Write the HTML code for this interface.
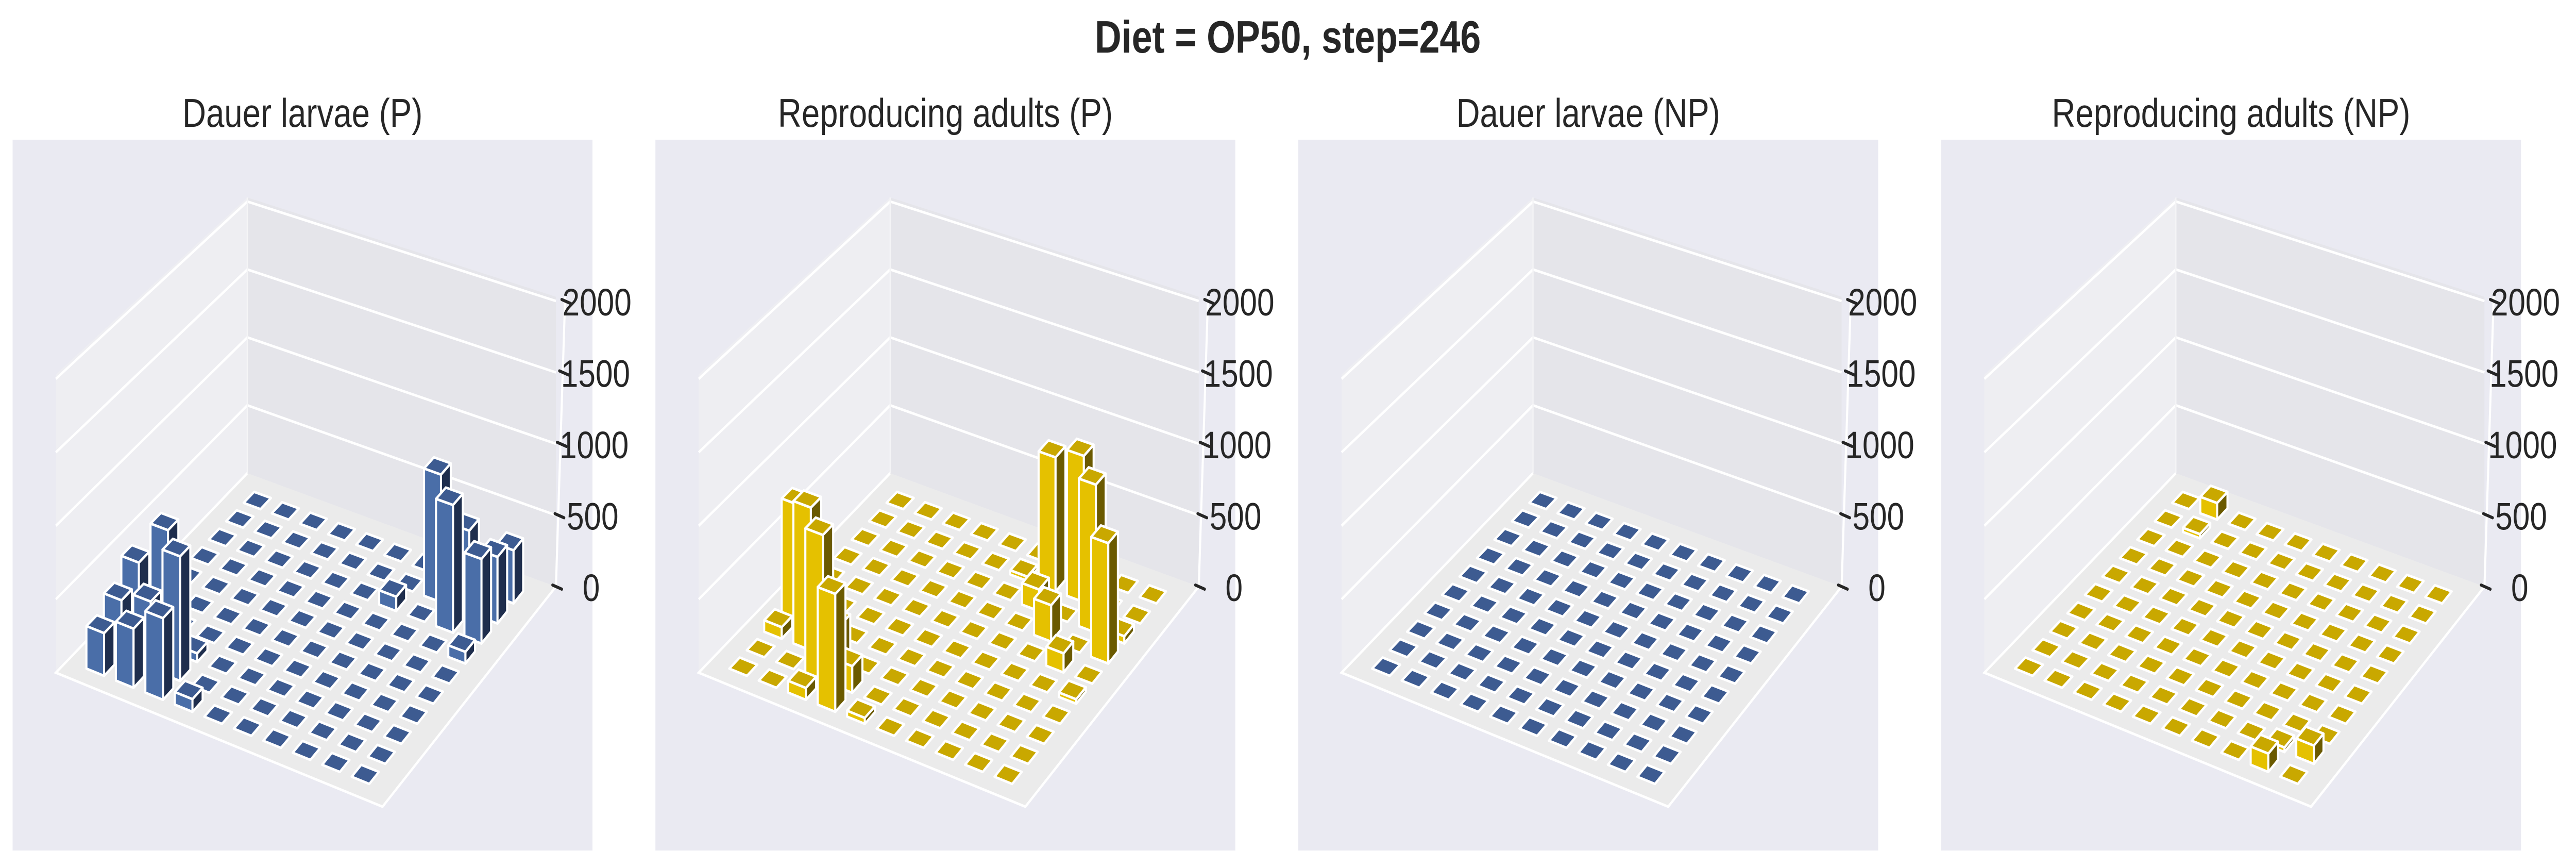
<!DOCTYPE html>
<html><head><meta charset="utf-8"><style>
html,body{margin:0;padding:0;background:#fff;overflow:hidden;width:100%;height:100%;}
svg{display:block;width:100vw;height:100vh;font-family:"Liberation Sans",Arial,sans-serif;}
</style></head><body>
<svg id="fig" viewBox="0 0 6135 1682" preserveAspectRatio="none" xmlns="http://www.w3.org/2000/svg">
<rect width="6135" height="1682" fill="#ffffff"/>
<text x="3067" y="102" text-anchor="middle" font-size="88" font-weight="bold" fill="#262626">Diet = OP50, step=246</text>
</svg>
<script>
// ---- data (rows = depth index j, columns = index i) ----
const panelTitles = ["Dauer larvae (P)", "Reproducing adults (P)", "Dauer larvae (NP)", "Reproducing adults (NP)"];
const zTicks = [0, 500, 1000, 1500, 2000];
const zTickLabels = ["0", "500", "1000", "1500", "2000"];
const dauerP = [
 [290,400,550,85,0,0,0,0,0,0],
 [390,460,845,0,0,0,0,0,0,0],
 [525,825,60,0,0,0,0,0,0,0],
 [0,0,0,0,0,0,0,0,0,0],
 [0,0,0,0,0,0,0,0,0,0],
 [0,0,0,0,0,0,0,0,0,0],
 [0,0,0,0,0,0,0,0,0,80],
 [0,0,0,0,0,0,100,0,880,580],
 [0,0,0,0,0,0,0,890,570,460],
 [0,0,0,0,0,0,0,295,0,370]
];
const adultP = [
 [0,0,80,790,40,0,0,0,0,0],
 [0,0,990,180,0,0,0,0,0,0],
 [80,980,250,0,0,0,0,0,0,0],
 [800,0,0,0,0,0,0,0,0,0],
 [0,0,0,0,0,0,0,0,0,30],
 [0,0,0,0,0,0,0,0,130,0],
 [0,0,0,0,0,0,0,250,0,820],
 [0,0,0,0,0,0,150,0,1020,50],
 [0,0,0,0,0,30,940,1020,0,0],
 [0,0,0,0,0,0,0,0,0,0]
];
const dauerNP = [
 [0,0,0,0,0,0,0,0,0,0],[0,0,0,0,0,0,0,0,0,0],[0,0,0,0,0,0,0,0,0,0],
 [0,0,0,0,0,0,0,0,0,0],[0,0,0,0,0,0,0,0,0,0],[0,0,0,0,0,0,0,0,0,0],
 [0,0,0,0,0,0,0,0,0,0],[0,0,0,0,0,0,0,0,0,0],[0,0,0,0,0,0,0,0,0,0],
 [0,0,0,0,0,0,0,0,0,0]
];
const adultNP = [
 [0,0,0,0,0,0,0,0,120,0],
 [0,0,0,0,0,0,0,0,30,120],
 [0,0,0,0,0,0,0,0,0,0],[0,0,0,0,0,0,0,0,0,0],[0,0,0,0,0,0,0,0,0,0],
 [0,0,0,0,0,0,0,0,0,0],[0,0,0,0,0,0,0,0,0,0],[0,0,0,0,0,0,0,0,0,0],
 [0,30,0,0,0,0,0,0,0,0],
 [0,120,0,0,0,0,0,0,0,0]
];
const panelData = [dauerP, adultP, dauerNP, adultNP];

const NS = "http://www.w3.org/2000/svg";
const svg = document.getElementById("fig");
const panelX = [30, 1561, 3092, 4623];
const PW = 1381, PH = 1379, PY = 271;
const palettes = [
 {front:"#4a6ea8", side:"#1f2e4d", top:"#3d5b91"},
 {front:"#e5c100", side:"#6b5a00", top:"#c9a800"}
];
const L=[103,1034], B=[881,1294], R=[1294,867], K=[559,647];
const sL=0.285, sB=0.300, sR=0.277, sK=0.2635;
const ZMAX=2030, N=10, CW=0.6;

function el(tag, attrs, parent){
  const e=document.createElementNS(NS,tag);
  for(const k in attrs) e.setAttribute(k,attrs[k]);
  (parent||svg).appendChild(e); return e;
}
function proj(ox,u,v,z){
  const a=(1-u)*(1-v), b=u*(1-v), c=u*v, d=(1-u)*v;
  const x=L[0]*a+B[0]*b+R[0]*c+K[0]*d;
  const y=L[1]*a+B[1]*b+R[1]*c+K[1]*d;
  const s=sL*a+sB*b+sR*c+sK*d;
  return [ox+x, PY+y-z*s];
}
function uOf(i){return (i+0.95)/11.05;}
function vOf(j){return (j+0.95)/10.9;}
function pts(arr){return arr.map(p=>p[0].toFixed(1)+","+p[1].toFixed(1)).join(" ");}

panelData.forEach((data,p)=>{
  const ox=panelX[p];
  const pal=palettes[p%2];
  const g=el("g",{});
  
  
  const bg=el("rect",{x:ox,y:PY,width:PW,height:PH,fill:"#eaeaf2"},g);
  
  
  const t=el("text",{x:ox+PW/2,y:246,"text-anchor":"middle","font-size":78,fill:"#262626"},g);
  t.textContent=panelTitles[p];
  
  
  const lw=el("polygon",{points:pts([proj(ox,0,0,0),proj(ox,0,1,0),proj(ox,0,1,ZMAX),proj(ox,0,0,ZMAX)]),fill:"#eeeef2"},g);
  
  
  const bw=el("polygon",{points:pts([proj(ox,0,1,0),proj(ox,1,1,0),proj(ox,1,1,ZMAX),proj(ox,0,1,ZMAX)]),fill:"#e5e5ea"},g);
  
  
  const fl=el("polygon",{points:pts([proj(ox,0,0,0),proj(ox,1,0,0),proj(ox,1,1,0),proj(ox,0,1,0)]),fill:"#ebebeb"},g);
  
  
  zTicks.forEach(z=>{
    if(z===0) return;
    const a=proj(ox,0,0,z), b=proj(ox,0,1,z), c=proj(ox,1,1,z);
    const gl=el("polyline",{points:pts([a,b,c]),fill:"none",stroke:"#ffffff","stroke-width":5},g);
    
    
  });
  const kv=el("line",{x1:proj(ox,0,1,0)[0],y1:proj(ox,0,1,0)[1],x2:proj(ox,0,1,ZMAX)[0],y2:proj(ox,0,1,ZMAX)[1],stroke:"#f4f4f6","stroke-width":3},g);
  
  
  const be=el("polyline",{points:pts([proj(ox,0,1,0),proj(ox,0,0,0),proj(ox,1,0,0),proj(ox,1,1,0)]),fill:"none",stroke:"#ffffff","stroke-width":5},g);
  
  
  const zr0=proj(ox,1,1,0), zr1=proj(ox,1,1,ZMAX);
  const za=el("line",{x1:zr0[0],y1:zr0[1],x2:zr1[0]+22,y2:zr1[1],stroke:"#ffffff","stroke-width":5},g);
  
  
  zTicks.forEach((z,k)=>{
    const q=proj(ox,1,1,z); const f=z/ZMAX; const xx=q[0]+22*f;
    const tk=el("line",{x1:xx-8,y1:q[1]-3,x2:xx+14,y2:q[1]+5,stroke:"#262626","stroke-width":6,"stroke-linecap":"round"},g);
    
    
    const lb=el("text",{x:xx+84-z*0.004,y:q[1]+28,"text-anchor":"middle","font-size":74,fill:"#262626"},g);
    lb.textContent=zTickLabels[k];
    
    
  });
  const cells=[];
  for(let j=0;j<N;j++) for(let i=0;i<N;i++) cells.push([i,j,data[j][i]]);
  cells.sort((a,b)=>((1-uOf(b[0]))+vOf(b[1]))-((1-uOf(a[0]))+vOf(a[1])));
  cells.forEach(c=>{
    const i=c[0], j=c[1], h=c[2];
    const hu=CW/2/11.05, hv=CW/2/10.9;
    const u0=uOf(i)-hu,u1=uOf(i)+hu,v0=vOf(j)-hv,v1=vOf(j)+hv;
    const bg2=el("g",{stroke:"#ffffff","stroke-width":5,"stroke-linejoin":"round"},g);
    
    
    if(h>0){
      el("polygon",{points:pts([proj(ox,u0,v0,0),proj(ox,u1,v0,0),proj(ox,u1,v0,h),proj(ox,u0,v0,h)]),fill:pal.front},bg2);
      el("polygon",{points:pts([proj(ox,u1,v0,0),proj(ox,u1,v1,0),proj(ox,u1,v1,h),proj(ox,u1,v0,h)]),fill:pal.side},bg2);
    }
    el("polygon",{points:pts([proj(ox,u0,v0,h),proj(ox,u1,v0,h),proj(ox,u1,v1,h),proj(ox,u0,v1,h)]),fill:pal.top},bg2);
  });
});
</script>
</body></html>
